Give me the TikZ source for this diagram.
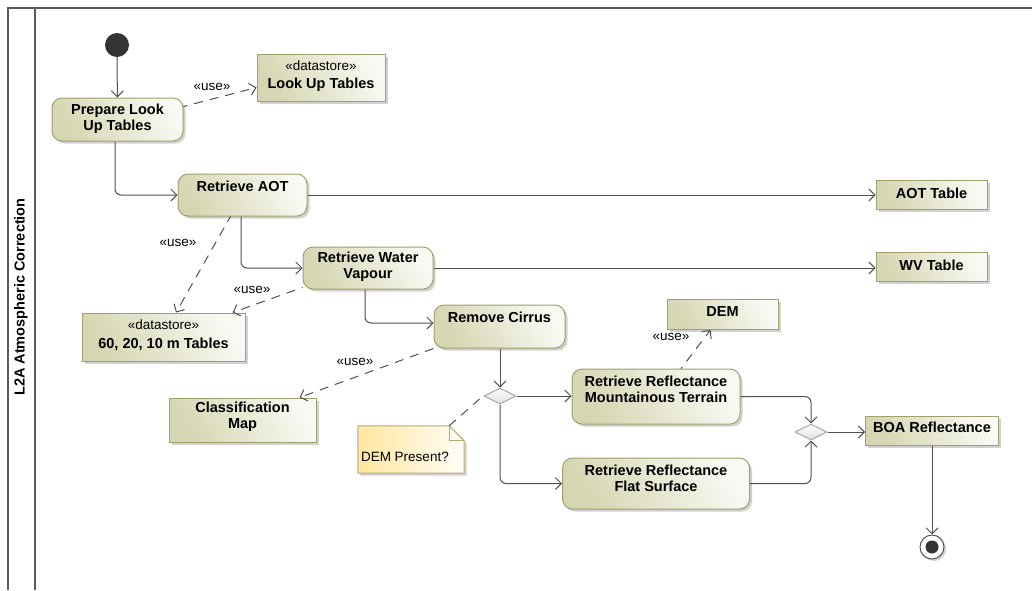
\documentclass[tikz,border=0pt]{standalone}
\usepackage{fontspec}
\setmainfont{Liberation Sans}
\usetikzlibrary{arrows.meta,shapes.geometric,shadows,calc}
\definecolor{edgec}{RGB}{80,80,80}
\definecolor{bord}{RGB}{160,160,110}
\definecolor{khaki}{RGB}{214,214,178}
\definecolor{notey}{RGB}{255,230,160}
\definecolor{notebd}{RGB}{185,170,115}
\definecolor{framec}{RGB}{90,90,90}
\tikzset{
  boxbase/.style={draw=bord, line width=1pt, bottom color=khaki, top color=white!85!khaki, shading angle=-60,
    drop shadow={shadow xshift=2.5pt, shadow yshift=-2.5pt, fill=black, opacity=0.18}, inner sep=0pt},
  actbox/.style={boxbase, rectangle, rounded corners=10pt},
  objbox/.style={boxbase, rectangle},
  lblb/.style={font=\bfseries\fontsize{14.5}{15.7}\selectfont, align=center, text=black},
  lblr/.style={font=\fontsize{13.5}{15}\selectfont, align=center, text=black},
  flow/.style={draw=edgec, line width=1pt, rounded corners=6pt, -{Straight Barb[length=6pt,width=12pt,line width=1pt]}},
  usedep/.style={draw=edgec, line width=1pt, dash pattern=on 9pt off 7pt, -{Straight Barb[length=6pt,width=12pt,line width=1pt]}},
  anchorline/.style={draw=edgec, line width=1pt, dash pattern=on 9pt off 7pt},
  decbox/.style={diamond, draw=gray!70, line width=1pt, top color=white, bottom color=gray!25, minimum width=32pt, minimum height=16pt, inner sep=0pt, aspect=2},
  uselbl/.style={lblr, inner sep=0pt},
}
\begin{document}
\begin{tikzpicture}[x=1pt,y=-1pt]
\useasboundingbox (0,0) rectangle (1032,590);
% swimlane frame
\draw[framec, line width=1.6pt] (8,590) -- (8,8) -- (1032,8);
\draw[framec, line width=1.6pt] (35,8) -- (35,590);
\node[rotate=90, font=\bfseries\fontsize{14.5}{16}\selectfont] (lane) at (21,297) {L2A Atmospheric Correction};

% nodes
\node[circle, fill=black!80, minimum size=24pt, inner sep=0pt] (init) at (117,45) {};
\node[actbox, minimum width=131pt, minimum height=43pt,
  label={[lblb, anchor=center, yshift=1pt]center:Prepare Look\\Up Tables}] (prep) at (117.5,119.5) {};
\node[objbox, minimum width=128pt, minimum height=47pt,
  label={[lblr, anchor=north, yshift=-4pt]north:«datastore»},
  label={[lblb, anchor=north, yshift=-21pt]north:Look Up Tables}] (lut) at (321,77.5) {};
\node[actbox, minimum width=129pt, minimum height=42pt,
  label={[lblb, anchor=north, yshift=-4pt]north:Retrieve AOT}] (aot) at (242.5,195) {};
\node[objbox, minimum width=111pt, minimum height=29pt,
  label={[lblb, anchor=center, yshift=1pt]center:AOT Table}] (aott) at (931.5,194.5) {};
\node[actbox, minimum width=130pt, minimum height=42pt,
  label={[lblb, anchor=center, yshift=1pt]center:Retrieve Water\\Vapour}] (wv) at (368,268) {};
\node[objbox, minimum width=111pt, minimum height=29pt,
  label={[lblb, anchor=center, yshift=1pt]center:WV Table}] (wvt) at (931.5,266.5) {};
\node[objbox, minimum width=163pt, minimum height=48pt,
  label={[lblr, anchor=north, yshift=-4pt]north:«datastore»},
  label={[lblb, anchor=north, yshift=-22pt]north:60, 20, 10 m Tables}] (tabs) at (163.5,337) {};
\node[actbox, minimum width=131pt, minimum height=43pt,
  label={[lblb, anchor=north, yshift=-4pt]north:Remove Cirrus}] (rc) at (499.5,326.5) {};
\node[objbox, minimum width=111pt, minimum height=30pt,
  label={[lblb, anchor=north, yshift=-4pt]north:DEM}] (dem) at (722.5,314.5) {};
\node[objbox, minimum width=147pt, minimum height=44pt,
  label={[lblb, anchor=center, yshift=3pt]center:Classification\\Map}] (cls) at (242.5,420) {};
\node[decbox] (dec) at (500,396) {};
\node[actbox, minimum width=168pt, minimum height=55pt,
  label={[lblb, anchor=north, yshift=-4pt]north:Retrieve Reflectance\\Mountainous Terrain}] (mnt) at (656,396.5) {};
\node[actbox, minimum width=187pt, minimum height=51pt,
  label={[lblb, anchor=north, yshift=-4pt]north:Retrieve Reflectance\\Flat Surface}] (flat) at (656,483.5) {};
\node[minimum width=106pt, minimum height=47pt, inner sep=0pt] (note) at (411,449.5) {};
\path[draw=notebd, line width=1pt, left color=notey, right color=white!92!notey,
  drop shadow={shadow xshift=2.5pt, shadow yshift=-2.5pt, fill=black, opacity=0.18}]
  (note.south west) -- (note.north west) -- ($(note.north east)+(-15pt,0pt)$)
  -- ($(note.north east)+(0pt,-15pt)$) -- (note.south east) -- cycle;
\draw[notebd, line width=1pt] ($(note.north east)+(-15pt,0pt)$) -- ++(0pt,-15pt) -- ($(note.north east)+(0pt,-15pt)$);
\node[lblr, anchor=west, inner sep=0pt] (notetxt) at ($(note.west)+(3pt,-7pt)$) {DEM Present?};
\node[decbox] (mrg) at (811,432) {};
\node[objbox, minimum width=133pt, minimum height=29pt,
  label={[lblb, anchor=north, yshift=-3pt]north:BOA Reflectance}] (boa) at (932,430.5) {};
\node[circle, draw=edgec, line width=1pt, fill=white, minimum size=24pt, inner sep=0pt,
  drop shadow={shadow xshift=2pt, shadow yshift=-2pt, fill=black, opacity=0.18}] (fin) at (932,547) {};
\fill[black!80] (fin.center) circle (6.5pt);

% control flows
\draw[flow] (init) -- (prep);
\draw[flow] ([xshift=-2.5pt]prep.south) |- (aot.west);
\draw[flow] (aot.east) -- (aot.east -| aott.west);
\draw[flow] ([xshift=-1.5pt]aot.south) |- (wv.west);
\draw[flow] (wv.east) -- (wv.east -| wvt.west);
\draw[flow] ([xshift=-3pt]wv.south) |- ([yshift=3.5pt]rc.west);
\draw[flow] (rc.south -| dec.north) -- (dec.north);
\draw[flow] (dec.east) -- (dec.east -| mnt.west);
\draw[flow] (dec.south) |- (flat.west);
\draw[flow] (mnt.east) -| (mrg.north);
\draw[flow] (flat.east) -| (mrg.south);
\draw[flow] (mrg.east) -- (mrg.east -| boa.west);
\draw[flow] (boa.south -| fin.north) -- (fin.north);

% use dependencies
\draw[usedep, dash phase=5pt] ($(prep.east)+(0pt,13pt)$) -- ($(lut.west)+(0pt,-10pt)$);
\node[uselbl] (u1) at (212,87) {«use»};
\draw[usedep, dash phase=3pt] ($(aot.south)+(-12pt,0pt)$) -- ($(tabs.north)+(12.5pt,0pt)$);
\node[uselbl] (u2) at (178,243) {«use»};
\draw[usedep, dash phase=8pt] ($(wv.south west)+(0pt,2pt)$) -- ($(tabs.north east)+(-13pt,0pt)$);
\node[uselbl] (u3) at (252,290) {«use»};
\draw[usedep, dash phase=0pt] (rc.south west) -- ($(cls.north east)+(-17pt,0pt)$);
\node[uselbl] (u4) at (355,362) {«use»};
\draw[usedep, dash phase=7pt] ($(mnt.north)+(25pt,0pt)$) -- ($(dem.south)+(-12pt,0pt)$);
\node[uselbl] (u5) at (671,337) {«use»};
\draw[anchorline] ($(note.north east)+(-15pt,0pt)$) -- ($(dec.west)+(-4pt,-3pt)$);
\end{tikzpicture}
\end{document}
